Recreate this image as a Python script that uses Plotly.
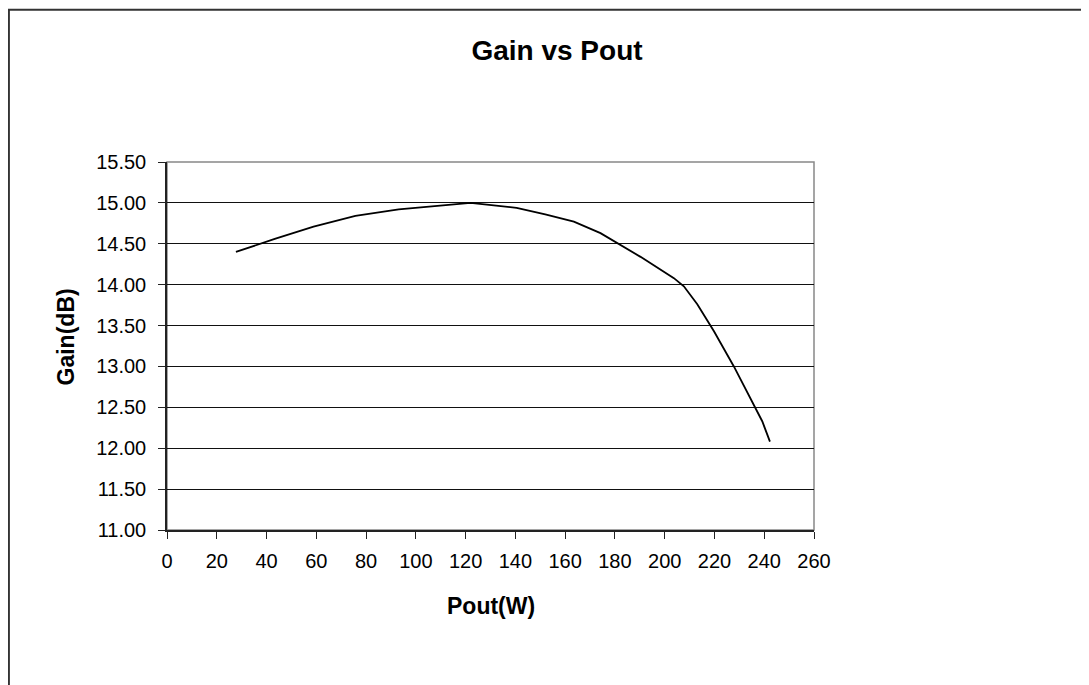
import plotly.graph_objects as go

# Data
pout_w = [27.7, 43.3, 58.9, 75.7, 93.1, 122.0, 140.5, 152.0, 163.5, 174.2,
          190.3, 203.7, 207.7, 213.1, 219.8, 227.8, 239.2, 242.3]
gain_db = [14.40, 14.56, 14.71, 14.84, 14.92, 15.00, 14.94, 14.86, 14.77, 14.63,
           14.34, 14.08, 13.98, 13.76, 13.43, 13.00, 12.33, 12.08]

x_ticks = list(range(0, 261, 20))
y_ticks = [11.0 + 0.5 * i for i in range(10)]

FONT = "Arial, 'Liberation Sans', sans-serif"

# page body has an 8px margin, so the figure is offset by (8, 8)
OFF = 8
W, H = 1089 - OFF, 685 - OFF
L, T = 167 - OFF, 162 - OFF
PW, PH = 646.6, 368.4

fig = go.Figure()
fig.add_trace(go.Scatter(
    x=pout_w, y=gain_db, mode="lines",
    line=dict(color="black", width=1.8),
    showlegend=False, hoverinfo="x+y",
))

fig.update_layout(
    width=W, height=H,
    margin=dict(l=L, r=W - L - PW, t=T, b=H - T - PH, pad=0),
    paper_bgcolor="white", plot_bgcolor="white",
    font=dict(family=FONT, size=20, color="black"),
    title=dict(
        text="<b>Gain vs Pout</b>",
        font=dict(family=FONT, size=28, color="black"),
        x=(557 - OFF) / W, xref="container", xanchor="center",
        y=1 - (50 - OFF) / H, yref="container", yanchor="middle",
    ),
    xaxis=dict(
        range=[0, 260], tickmode="array", tickvals=x_ticks,
        ticktext=[str(v) for v in x_ticks],
        showgrid=False, zeroline=False,
        showline=True, linecolor="#222", linewidth=1.5,
        ticks="outside", ticklen=7, tickcolor="#222", tickwidth=1,
        tickfont=dict(family=FONT, size=20, color="black"),
        ticklabelstandoff=5,
    ),
    yaxis=dict(
        range=[11.0, 15.5], tickmode="array", tickvals=y_ticks,
        ticktext=[f"{v:.2f}" for v in y_ticks],
        showgrid=True, gridcolor="#111", gridwidth=1,
        zeroline=False,
        showline=True, linecolor="#222", linewidth=1.5,
        ticks="outside", ticklen=7, tickcolor="#222", tickwidth=1,
        tickfont=dict(family=FONT, size=20, color="black"),
        ticklabelstandoff=8,
    ),
    shapes=[
        # plot area border (gray)
        dict(type="rect", xref="paper", yref="paper", x0=0, x1=1, y0=0, y1=1,
             line=dict(color="#888", width=1.5), layer="below"),
        # outer chart frame
        dict(type="rect", xref="paper", yref="paper",
             x0=(1 - L) / PW, x1=2.0, y0=-2.0, y1=(530.7 - 10) / 368.4,
             line=dict(color="#333", width=2), layer="below"),
    ],
    annotations=[
        dict(text="<b>Pout(W)</b>", xref="paper", yref="paper",
             x=0.5, y=(530.7 - 607) / 368.4, xanchor="center", yanchor="middle",
             showarrow=False, font=dict(family=FONT, size=23, color="black")),
        dict(text="<b>Gain(dB)</b>", xref="paper", yref="paper",
             x=(66 - 167) / 646.6, y=(530.7 - 337) / 368.4,
             xanchor="center", yanchor="middle", textangle=-90,
             showarrow=False, font=dict(family=FONT, size=23, color="black")),
    ],
)

fig.write_html("out.html")
